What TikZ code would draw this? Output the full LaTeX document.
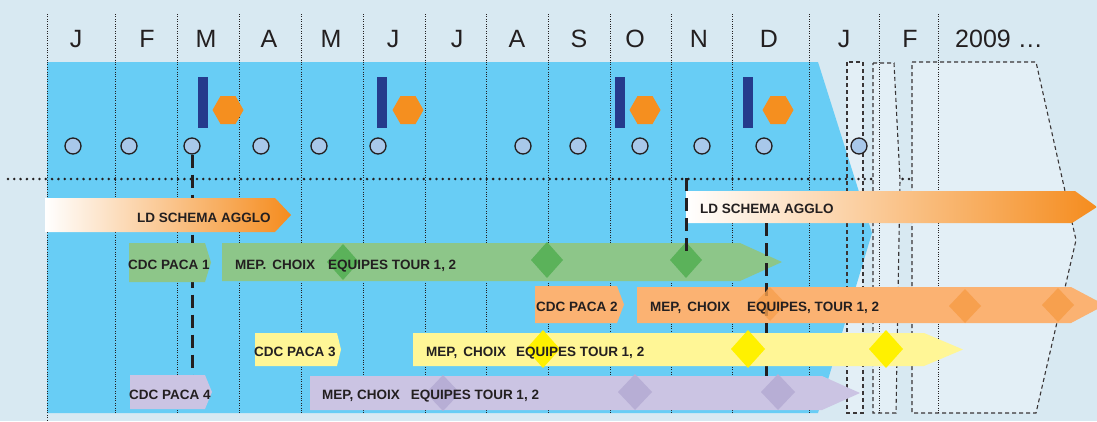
\documentclass[tikz,border=0pt]{standalone}
\usepackage{fontspec}
\setmainfont{Liberation Sans}
\usepackage{xcolor}
\usetikzlibrary{positioning}

\definecolor{bgblue}{RGB}{216,233,242}
\definecolor{boxfill}{RGB}{227,239,246}
\definecolor{skyblue}{RGB}{104,205,245}
\definecolor{navy}{RGB}{37,59,140}
\definecolor{hexorange}{RGB}{245,143,31}
\definecolor{dotfill}{RGB}{168,200,234}
\definecolor{inkgrey}{RGB}{35,31,32}
\definecolor{greenbar}{RGB}{141,198,137}
\definecolor{greendia}{RGB}{91,178,90}
\definecolor{orangebar}{RGB}{251,178,114}
\definecolor{orangedia}{RGB}{247,160,78}
\definecolor{yellowbar}{RGB}{255,246,150}
\definecolor{yellowdia}{RGB}{255,241,0}
\definecolor{purplebar}{RGB}{203,196,227}
\definecolor{purpledia}{RGB}{183,174,213}
\definecolor{ldorange}{RGB}{245,140,30}

% colour, x left, x end of body, x tip, y top, y bottom
\newcommand{\phasebar}[6]{\fill[#1] (#2,#5) -- (#3,#5) -- (#4,{(#5+#6)/2}) -- (#3,#6) -- (#2,#6) -- cycle;}
% colour, x, y, half width, half height
\newcommand{\phasediamond}[5]{\fill[#1] (#2-#4,#3) -- (#2,#3-#5) -- (#2+#4,#3) -- (#2,#3+#5) -- cycle;}

\begin{document}
\begin{tikzpicture}[x=1pt,y=-1pt,
    month/.style={font=\fontsize{25}{30}\selectfont, text=inkgrey, anchor=base, inner sep=0pt},
    bartext/.style={font=\fontsize{13.5}{16}\selectfont\bfseries, text=inkgrey, anchor=base west, inner sep=0pt},
    meeting/.style={circle, fill=dotfill, draw=inkgrey, line width=1.3pt, minimum size=16pt, inner sep=0pt},
    griddots/.style={inkgrey, line width=0.9pt, dash pattern=on 0.9pt off 1.5pt},
    cutline/.style={inkgrey, line width=3pt, dash pattern=on 13pt off 7pt},
    laterbox/.style={draw=inkgrey!90, line width=1.1pt, dash pattern=on 4pt off 3pt}]
    \useasboundingbox (0,0) rectangle (1097,421);
    \clip (0,0) rectangle (1097,421);
    \fill[bgblue] (0,0) rectangle (1097,421);

    % year 2008 and the months after it
    \fill[boxfill] (847,62) rectangle (863,413);
    \fill[skyblue] (47,62) -- (818,62) -- (872,233) -- (818,413) -- (47,413) -- cycle;
    \draw[inkgrey, line width=2.8pt, line cap=round, dash pattern=on 0pt off 6.3pt] (8,179) -- (912,179);
    \fill[boxfill] (873,63) -- (894,63) -- (900,180) -- (896,413) -- (873,413) -- cycle;
    \fill[boxfill] (912,62) -- (1036,62) -- (1076,240) -- (1036,413) -- (912,413) -- cycle;
    \draw[laterbox] (847,62) rectangle (863,413);
    \draw[laterbox] (873,63) -- (894,63) -- (900,180) -- (896,413) -- (873,413) -- cycle;
    \draw[laterbox] (912,62) -- (1036,62) -- (1076,240) -- (1036,413) -- (912,413) -- cycle;

    \draw[griddots] (47,14) -- (47,421);
    \foreach \x in {115,177,239,301,363,425,486,548,610,671,732,809,879,938}
        \draw[griddots] (\x,14) -- (\x,413);

    \foreach \x/\m [count=\i] in {76/J,147/F,206/M,269/A,331/M,393/J,457/J,517/A,579/S,635/O,699/N,769/D,844/J,910/F}
        \node[month] (m\i) at (\x,47) {\m};
    \node[month] (m15) at (999,47) {2009 \dots};

    % reviews
    \foreach \x in {198,377,615,743}
        \fill[navy] (\x,77) rectangle (\x+9.5,128);
    \foreach \x in {228,408,645,778}
        \fill[hexorange] (\x-15.5,110) -- (\x-7.5,96) -- (\x+7.5,96) -- (\x+15.5,110) -- (\x+7.5,124) -- (\x-7.5,124) -- cycle;
    \foreach \x [count=\i] in {73,129,192,261,319,378,523,578,640,702,764,859}
        \node[meeting] (c\i) at (\x,146) {};

    \coordinate (cut1) at (192,377);
    \draw[cutline] (c3.south) -- (cut1);

    % schema agglo
    \shade[left color=white, middle color=ldorange!45!white, right color=ldorange]
        (45,198) -- (275,198) -- (291,215) -- (275,232) -- (45,232) -- cycle;
    \shade[left color=white, middle color=ldorange!45!white, right color=ldorange]
        (686,191) -- (1075,191) -- (1097,207) -- (1072,223) -- (686,223) -- cycle;

    % lots 1 to 4
    \phasebar{greenbar}{129}{205}{211}{243}{282}
    \phasebar{greenbar}{222}{740}{782}{243}{281}
    \phasediamond{greendia}{343}{262}{16}{18}
    \phasediamond{greendia}{547}{260}{16}{18}
    \phasediamond{greendia}{686}{260}{16}{18}

    \phasebar{orangebar}{535}{617}{624}{286}{323}
    \phasebar{orangebar}{637}{1071}{1105}{287}{323}
    \coordinate (cut3a) at (766,223);
    \coordinate (cut3b) at (766,377);
    \draw[cutline] (cut3a) -- (cut3b);
    \phasediamond{orangedia, opacity=0.8}{770}{304}{16}{17}
    \phasediamond{orangedia}{965}{306}{16}{17}
    \phasediamond{orangedia}{1058}{305}{16}{17}

    \phasebar{yellowbar}{255}{337}{341}{333}{366}
    \phasebar{yellowbar}{413}{924}{963}{333}{366}
    \phasediamond{yellowdia}{543}{349}{17}{19}
    \phasediamond{yellowdia}{748}{349}{17}{19}
    \phasediamond{yellowdia}{886}{349}{17}{19}

    \phasebar{purplebar}{130}{205}{212}{375}{409}
    \phasebar{purplebar}{310}{822}{860}{376}{410}
    \phasediamond{purpledia}{443}{393}{17}{18}
    \phasediamond{purpledia}{635}{392}{17}{18}
    \phasediamond{purpledia}{778}{392}{17}{18}

    \coordinate (cut2a) at (686,178);
    \coordinate (cut2b) at (686,257);
    \draw[cutline] (cut2a) -- (cut2b);

    % labels
    \node[bartext] (ld1) at (137,222) {LD SCHEMA AGGLO};
    \node[bartext] (ld2) at (700,213) {LD SCHEMA AGGLO};
    \node[bartext] (cdc1) at (128,269) {CDC PACA 1};
    \node[bartext] (mep1) at (235,269) {MEP.\hspace{6pt}CHOIX\hspace{13pt}EQUIPES TOUR 1, 2};
    \node[bartext] (cdc2) at (536,311) {CDC PACA 2};
    \node[bartext] (mep2) at (650,311) {MEP,\hspace{6pt}CHOIX\hspace{17pt}EQUIPES, TOUR 1, 2};
    \node[bartext] (cdc3) at (254,356) {CDC PACA 3};
    \node[bartext] (mep3) at (426,356) {MEP,\hspace{6pt}CHOIX\hspace{10pt}EQUIPES TOUR 1, 2};
    \node[bartext] (cdc4) at (129,399) {CDC PACA 4};
    \node[bartext] (mep4) at (322,399) {MEP, CHOIX\hspace{11pt}EQUIPES TOUR 1, 2};
\end{tikzpicture}
\end{document}
